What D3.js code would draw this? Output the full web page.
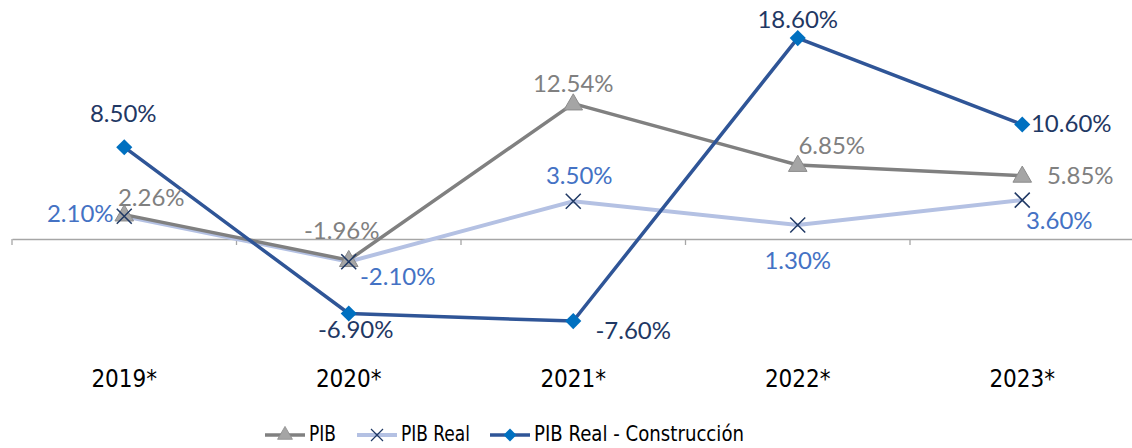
<!DOCTYPE html>
<meta charset="utf-8">
<style>
body { margin: 0; background: #fff; }
.lbl { font-family: Lato, sans-serif; font-size: 24px; }
.cat { font-family: "DejaVu Sans Condensed", "DejaVu Sans", sans-serif; font-stretch: condensed; font-size: 24px; fill: #000; }
.leg { font-family: "DejaVu Sans Condensed", "DejaVu Sans", sans-serif; font-stretch: condensed; font-size: 21px; fill: #000; }
</style>
<body>
<script src="https://d3js.org/d3.v7.min.js"></script>
<script>
// data
var years = ["2019*", "2020*", "2021*", "2022*", "2023*"];
var pib = [2.26, -1.96, 12.54, 6.85, 5.85];
var pibReal = [2.10, -2.10, 3.50, 1.30, 3.60];
var pibConst = [8.50, -6.90, -7.60, 18.60, 10.60];
var names = ["PIB", "PIB Real", "PIB Real - Construcción"];

var width = 1132, height = 448;

var svg = d3.select("body").append("svg")
    .attr("width", width)
    .attr("height", height);

// scales
var x = d3.scaleBand().domain(years).range([12, 1134.5]);
var y = d3.scaleLinear().domain([-10, 20]).range([347, 23]);
function cx(i) { return x(years[i]) + x.bandwidth() / 2; }

// axis line at zero, ticks sit on the band boundaries
var axis = svg.append("g")
    .attr("transform", "translate(0," + y(0) + ")")
    .call(d3.axisBottom(x).tickSize(0).tickSizeOuter(0).tickFormat(""));
axis.select(".domain").attr("stroke", "#a6a6a6").attr("stroke-width", 1.3);
axis.selectAll(".tick").remove();
axis.selectAll(".bnd")
    .data(years.concat([null]))
  .enter().append("line")
    .attr("x1", function(d, i) { return 12 + i * x.bandwidth(); })
    .attr("x2", function(d, i) { return 12 + i * x.bandwidth(); })
    .attr("y1", 0).attr("y2", 6)
    .attr("stroke", "#a6a6a6").attr("stroke-width", 1.3);

// category labels
svg.selectAll(".cat")
    .data(years)
  .enter().append("text")
    .attr("class", "cat")
    .attr("x", function(d, i) { return cx(i); })
    .attr("y", 387)
    .attr("text-anchor", "middle")
    .text(function(d) { return d; });

var line = d3.line()
    .x(function(d, i) { return cx(i); })
    .y(function(d) { return y(d); });

// lines
svg.append("path").datum(pibReal)
    .attr("fill", "none").attr("stroke", "#b4c1e3").attr("stroke-width", 4)
    .attr("d", line);
svg.append("path").datum(pib)
    .attr("fill", "none").attr("stroke", "#808080").attr("stroke-width", 3.5)
    .attr("d", line);
svg.append("path").datum(pibConst)
    .attr("fill", "none").attr("stroke", "#2f5597").attr("stroke-width", 3.5)
    .attr("d", line);

var tri = d3.symbol().type(d3.symbolTriangle).size(150);
var dia = d3.symbol().type(d3.symbolSquare).size(130);

function triMark(g) {
  g.append("path").attr("d", tri)
    .attr("fill", "#a5a5a5").attr("stroke", "#8c8c8c").attr("stroke-width", 1);
}
function xMark(g) {
  g.append("path").attr("d", "M-7.5,-7.5L7.5,7.5M-7.5,7.5L7.5,-7.5")
    .attr("stroke", "#1f3864").attr("stroke-width", 1.5).attr("fill", "none");
}
function diaMark(g) {
  g.append("path").attr("d", dia).attr("transform", "rotate(45)")
    .attr("fill", "#0070c0");
}

// markers
svg.selectAll(".m1").data(pib).enter().append("g")
    .attr("transform", function(d, i) { return "translate(" + cx(i) + "," + (y(d) + 1) + ")"; })
    .call(triMark);
svg.selectAll(".m2").data(pibReal).enter().append("g")
    .attr("transform", function(d, i) { return "translate(" + cx(i) + "," + y(d) + ")"; })
    .call(xMark);
svg.selectAll(".m3").data(pibConst).enter().append("g")
    .attr("transform", function(d, i) { return "translate(" + cx(i) + "," + y(d) + ")"; })
    .call(diaMark);

// data labels, offsets from the point
var pibOff = [[27, -17], [-7, -30], [0, -20], [34, -20], [58, 0]];
var realOff = [[-44, -3], [49, 15], [6, -26], [0, 35], [37, 20]];
var constOff = [[-1, -34], [7, 16], [60, 9], [0, -19], [49, -1]];

function labels(vals, off, color) {
  svg.selectAll(null).data(vals).enter().append("text")
      .attr("class", "lbl")
      .attr("x", function(d, i) { return cx(i) + off[i][0]; })
      .attr("y", function(d, i) { return y(d) + off[i][1]; })
      .attr("dy", "0.36em")
      .attr("text-anchor", "middle")
      .attr("fill", color)
      .text(function(d) { return d.toFixed(2) + "%"; });
}
labels(pib, pibOff, "#808080");
labels(pibReal, realOff, "#4472c4");
labels(pibConst, constOff, "#1f3864");

// legend
var legY = 435;
var leg = [
  {x: 265, color: "#808080", w: 3.5, mark: triMark, tw: 27},
  {x: 357, color: "#b4c1e3", w: 4, mark: xMark, tw: 69},
  {x: 490, color: "#2f5597", w: 3.5, mark: diaMark, tw: 210}
];
leg.forEach(function(d, i) {
  var g = svg.append("g");
  g.append("line")
      .attr("x1", d.x).attr("x2", d.x + 40)
      .attr("y1", legY).attr("y2", legY)
      .attr("stroke", d.color).attr("stroke-width", d.w);
  var m = g.append("g").attr("transform", "translate(" + (d.x + 20) + "," + legY + ") scale(0.8)");
  d.mark(m);
  g.append("text")
      .attr("class", "leg")
      .attr("x", d.x + 44)
      .attr("y", 441)
      .attr("textLength", d.tw)
      .attr("lengthAdjust", "spacingAndGlyphs")
      .text(names[i]);
});
</script>
</body>
